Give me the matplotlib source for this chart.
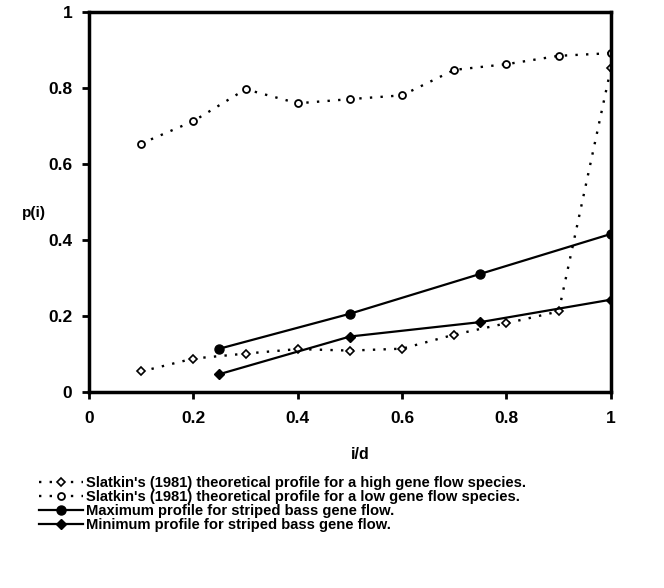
import numpy as np
import matplotlib.pyplot as plt

plt.rcParams["font.family"] = ["Liberation Sans", "DejaVu Sans"]
plt.rcParams["font.weight"] = "bold"

# Slatkin (1981) theoretical profiles
x_slat = [0.1, 0.2, 0.3, 0.4, 0.5, 0.6, 0.7, 0.8, 0.9, 1.0]
p_high = [0.053, 0.087, 0.100, 0.112, 0.108, 0.113, 0.150, 0.180, 0.211, 0.851]
p_low = [0.653, 0.712, 0.796, 0.759, 0.770, 0.780, 0.847, 0.862, 0.884, 0.891]

# striped bass profiles
x_bass = [0.25, 0.5, 0.75, 1.0]
p_max = [0.113, 0.205, 0.310, 0.415]
p_min = [0.046, 0.145, 0.183, 0.242]

labels = [
    "Slatkin's (1981) theoretical profile for a high gene flow species.",
    "Slatkin's (1981) theoretical profile for a low gene flow species.",
    "Maximum profile for striped bass gene flow.",
    "Minimum profile for striped bass gene flow.",
]

fig = plt.figure(figsize=(6.64, 5.88), dpi=100)
ax = fig.add_axes([0.134, 0.334, 0.786, 0.646])

dots = (0, (1, 3.5))
ax.plot(x_slat, p_high, linestyle=dots, color="black", lw=1.7,
        marker="D", ms=4, mfc="white", mec="black", mew=1.2, label=labels[0])
ax.plot(x_slat, p_low, linestyle=dots, color="black", lw=1.7,
        marker="o", ms=5, mfc="white", mec="black", mew=1.3, label=labels[1])
ax.plot(x_bass, p_max, "-", color="black", lw=1.6,
        marker="o", ms=6.5, label=labels[2])
ax.plot(x_bass, p_min, "-", color="black", lw=1.6,
        marker="D", ms=5, label=labels[3])

ax.set_xlim(0, 1)
ax.set_ylim(0, 1)
ax.set_xticks([0, 0.2, 0.4, 0.6, 0.8, 1])
ax.set_xticklabels(["0", "0.2", "0.4", "0.6", "0.8", "1"])
ax.set_yticks([0, 0.2, 0.4, 0.6, 0.8, 1])
ax.set_yticklabels(["0", "0.2", "0.4", "0.6", "0.8", "1"])
ax.tick_params(direction="out", length=5, width=2, labelsize=12.5)
ax.tick_params(axis="x", pad=9)
ax.tick_params(axis="y", pad=7)
for s in ax.spines.values():
    s.set_linewidth(2.5)

ax.set_xlabel("i/d", fontsize=11.5, fontweight="bold")
ax.xaxis.set_label_coords(0.52, -0.145)
ax.set_ylabel("p(i)", fontsize=11, fontweight="bold", rotation=0,
              ha="center", va="center")
ax.yaxis.set_label_coords(-0.105, 0.47)

fig.legend(loc="upper left", bbox_to_anchor=(0.05, 0.2), frameon=False,
           fontsize=10.65, handlelength=2.95, handletextpad=0.2, labelspacing=-0.01,
           borderaxespad=0)

fig.savefig("out.png", dpi=100)
